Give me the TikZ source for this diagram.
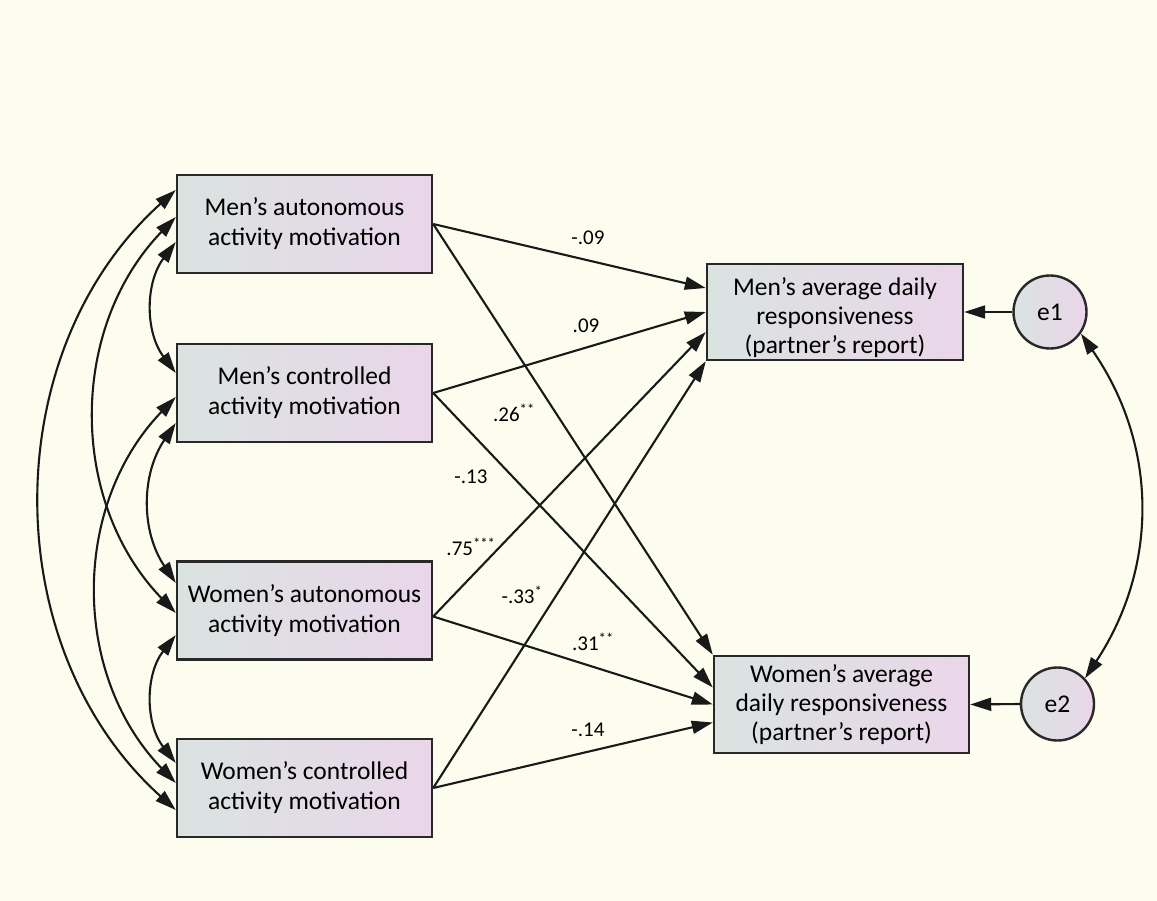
\documentclass[tikz,border=0pt]{standalone}
\usepackage{fontspec}
\setmainfont{Carlito}
\usetikzlibrary{arrows.meta,shapes.geometric}
\definecolor{bgc}{RGB}{252,253,238}
\definecolor{boxl}{RGB}{218,227,224}
\definecolor{boxr}{RGB}{234,214,234}
\definecolor{edge}{RGB}{40,40,40}
\begin{document}
\begin{tikzpicture}[x=1pt,y=-1pt,
  var/.style={draw=edge, line width=2.4pt, left color=boxl, right color=boxr, rectangle,
    minimum width=255pt, minimum height=98pt, inner sep=0pt, align=center,
    font=\fontsize{25.5}{30}\selectfont},
  dep/.style={var, font=\fontsize{25.5}{29}\selectfont},
  err/.style={draw=edge, line width=2.4pt, left color=boxl, right color=boxr, circle,
    minimum size=73pt, inner sep=0pt, font=\fontsize{25.5}{30}\selectfont},
  tip/.tip={Triangle[length=21pt,width=13pt]},
  reg/.style={line width=2.1pt, draw=black!90, -tip},
  cov/.style={line width=2.1pt, draw=black!90, tip-tip},
  coef/.style={font=\fontsize{21}{24}\selectfont, inner sep=0pt}
]
\fill[bgc] (0,0) rectangle (1157,901);
\useasboundingbox (0,0) rectangle (1157,901);

\node[var] (b1) at (304.5,224) {Men’s autonomous\\activity motivation};
\node[var] (b2) at (304.5,393) {Men’s controlled\\activity motivation};
\node[var] (b3) at (304.5,610.5) {Women’s autonomous\\activity motivation};
\node[var] (b4) at (304.5,788) {Women’s controlled\\activity motivation};

\node[dep, minimum width=256pt, minimum height=96pt, text height=88pt] (r1) at (835,312) {Men’s average daily\\responsiveness\\(partner’s report)};
\node[dep, minimum width=255pt, minimum height=97pt] (r2) at (841.5,704.5) {Women’s average\\daily responsiveness\\(partner’s report)};

\node[err] (e1) at (1050,312) {e1};
\node[err] (e2) at (1057.5,704) {e2};

% regression paths
\draw[reg] (b1.east) -- ([yshift=24pt]r1.west);
\draw[reg] (b2.east) -- (r1.west);
\draw[reg] ([yshift=-6pt]b3.east) -- ([yshift=-20pt]r1.west);
\draw[reg] (b4.east) -- (r1.south west);
\draw[reg] (b1.east) -- (r2.north west);
\draw[reg] (b2.east) -- ([yshift=17pt]r2.west);
\draw[reg] ([yshift=-6pt]b3.east) -- (r2.west);
\draw[reg] (b4.east) -- ([yshift=-18pt]r2.west);

\draw[reg] (e1.west) -- (r1.east);
\draw[reg] (e2.west) -- (r2.east);

% covariances
\draw[cov] ([yshift=-18pt]b1.west) to[bend right=37] ([yshift=20pt]b2.west);
\draw[cov] ([yshift=-30pt]b2.west) to[bend right=34] ([yshift=27.5pt]b3.west);
\draw[cov] ([yshift=-24.5pt]b3.west) to[bend right=38] ([yshift=25pt]b4.west);
\draw[cov] ([yshift=7pt]b1.west) to[bend right=44] ([yshift=-2.5pt]b3.west);
\draw[cov] ([yshift=-4pt]b2.west) to[bend right=44] ([yshift=5pt]b4.west);
\draw[cov] ([yshift=34pt]b1.west) to[bend right=48] ([yshift=-22pt]b4.west);
\draw[cov] (e1.-35) to[bend left=34] (e2.43);

% coefficients
\node[coef] (c1) at (588,238) {-.09};
\node[coef] (c2) at (586,326) {.09};
\node[coef] (c3) at (514,413) {.26\textsuperscript{**}};
\node[coef] (c4) at (471,477) {-.13};
\node[coef] (c5) at (471,547) {.75\textsuperscript{***}};
\node[coef] (c6) at (522,595) {-.33\textsuperscript{*}};
\node[coef] (c7) at (593,642) {.31\textsuperscript{**}};
\node[coef] (c8) at (588,730) {-.14};
\end{tikzpicture}
\end{document}
